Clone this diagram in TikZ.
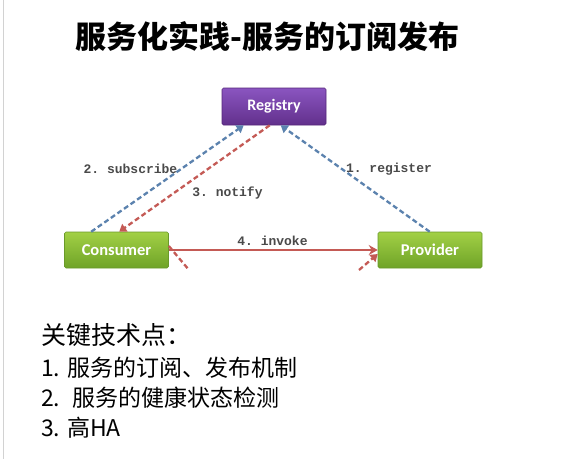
\documentclass[tikz,border=0pt]{standalone}
\usepackage{fontspec}
\usetikzlibrary{arrows.meta,calc}
\newfontfamily\cjk{Noto Sans CJK SC}
\newfontfamily\boxfont{Carlito}
\newfontfamily\lblfont{Liberation Mono}
\definecolor{regtop}{HTML}{8A55C0}
\definecolor{regbot}{HTML}{62308C}
\definecolor{regdraw}{HTML}{55277A}
\definecolor{grntop}{HTML}{A2D045}
\definecolor{grnbot}{HTML}{6FA328}
\definecolor{grndraw}{HTML}{6A9A2A}
\definecolor{arrblue}{HTML}{5B82AE}
\definecolor{arrred}{HTML}{C45A55}
\definecolor{lblgray}{HTML}{4A4A4A}
\tikzset{
  x=1pt, y=-1pt,
  regbox/.style={minimum width=104pt, minimum height=37pt, inner sep=0pt,
    top color=regtop, bottom color=regbot, draw=regdraw, line width=0.6pt,
    rounded corners=1.5pt, text=white, font=\boxfont\bfseries\fontsize{16}{19}\selectfont},
  grnbox/.style={minimum width=104pt, minimum height=36pt, inner sep=0pt,
    top color=grntop, bottom color=grnbot, draw=grndraw, line width=0.6pt,
    rounded corners=1.5pt, text=white, font=\boxfont\bfseries\fontsize{16.5}{19}\selectfont},
  bluedash/.style={draw=arrblue, line width=2.3pt, dash pattern=on 5pt off 3pt,
    -{Triangle[width=9pt,length=7pt]}},
  reddash/.style={draw=arrred, line width=2.3pt, dash pattern=on 5pt off 3pt,
    -{Triangle[width=9pt,length=7pt]}},
  redsolid/.style={draw=arrred, line width=2pt, -{Stealth[width=10pt,length=9pt,inset=3pt]}},
  lbl/.style={text=lblgray, font=\lblfont\bfseries\fontsize{13}{15}\selectfont, inner sep=0pt},
  ttl/.style={font=\cjk\bfseries\fontsize{31}{36}\selectfont, inner sep=0pt},
  itemtext/.style={font=\cjk\fontsize{23}{27}\selectfont, anchor=west, inner sep=0pt},
}
\begin{document}
\begin{tikzpicture}
\useasboundingbox[fill=white] (0,0) rectangle (567,459);
\draw[gray!35, line width=1pt] (3,0) -- (3,459);

\node[ttl] (title) at (267.5,36) {服务化实践-服务的订阅发布};

\node[regbox] (reg) at (274,106.5) {Registry};
\node[grnbox] (con) at (116.5,250) {Consumer};
\node[grnbox] (pro) at (430,250) {Provider};

\coordinate (m1) at (189,270);
\coordinate (m2) at (359,270);
\draw[draw=arrred, line width=2.3pt, dash pattern=on 5pt off 3pt] ([yshift=4pt]con.east) -- (m1);
\draw[reddash] (m2) -- ([yshift=-4pt]pro.west);

\draw[bluedash] ([xshift=27pt]con.north west) -- ([xshift=22pt]reg.south west);
\draw[reddash] ([xshift=48pt]reg.south west) -- ([xshift=55pt]con.north west);
\draw[bluedash] ([xshift=52pt]pro.north west) -- ([xshift=59pt]reg.south west);
\draw[redsolid] (con.east) -- (pro.west);

\node[lbl] (l2) at (130.5,169) {2.~subscribe};
\node[lbl] (l3) at (227.5,193) {3.~notify};
\node[lbl] (l1) at (389,169) {1.~register};
\node[lbl] (l4) at (272.5,241) {4.~invoke};

\node[itemtext, font=\cjk\fontsize{25}{29}\selectfont] (h) at (41,335) {关键技术点：};
\node[itemtext] (i1) at (41,368) {1. 服务的订阅、发布机制};
\node[itemtext] (i2) at (41,398) {2.~ 服务的健康状态检测};
\node[itemtext] (i3) at (41,428) {3. 高HA};
\end{tikzpicture}
\end{document}
